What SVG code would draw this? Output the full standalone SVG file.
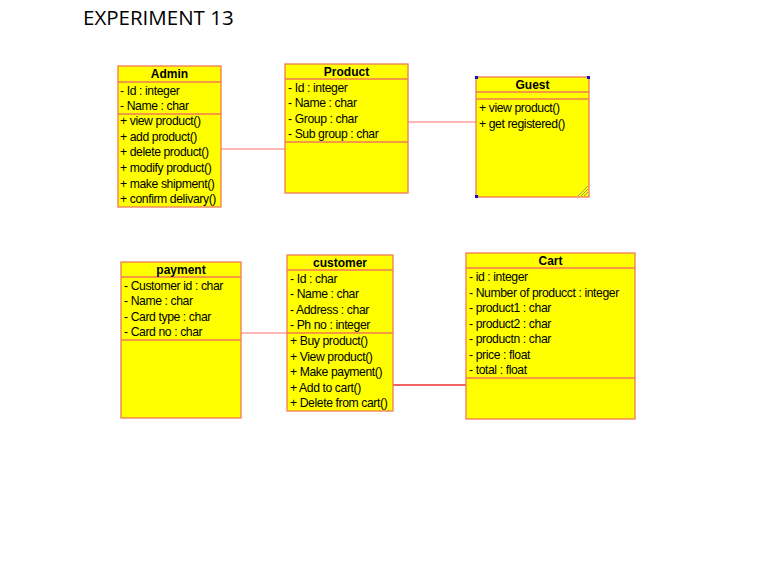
<svg xmlns="http://www.w3.org/2000/svg" width="770" height="573" viewBox="0 0 770 573">
<style>
.box{fill:#FFFF00;stroke:#F07A55;stroke-width:1.3}
.div{stroke:#F07A55;stroke-width:1.3}
.t{font-family:"Liberation Sans",Arial,sans-serif;font-size:12.2px;fill:#000;letter-spacing:-0.4px}
.h{font-family:"Liberation Sans",Arial,sans-serif;font-size:12px;font-weight:bold;fill:#000;text-anchor:middle}
.title{font-family:"Open Sans","Liberation Sans",sans-serif;font-size:20.5px;fill:#000}
.c{fill:none;stroke:#FF7070;stroke-width:1.2}
</style>
<rect width="770" height="573" fill="#fff"/>
<text class="title" x="83" y="25">EXPERIMENT 13</text>
<g id="connectors">
<line class="c" x1="221" y1="149" x2="285" y2="149"/>
<line class="c" x1="408" y1="122" x2="476" y2="122"/>
<line class="c" x1="241" y1="333" x2="287" y2="333" stroke="#F5A0A0"/>
<line x1="393" y1="385" x2="466" y2="385" stroke="#E83030" stroke-width="1.4"/>
</g>
<g id="admin">
<rect class="box" x="118" y="66" width="103" height="141"/>
<line class="div" x1="118" y1="82" x2="221" y2="82"/>
<line class="div" x1="118" y1="114" x2="221" y2="114"/>
<text class="h" x="169.5" y="78">Admin</text>
<text class="t" x="120" y="95">- Id : integer</text>
<text class="t" x="120" y="110">- Name : char</text>
<text class="t" x="120" y="125">+ view product()</text>
<text class="t" x="120" y="141">+ add product()</text>
<text class="t" x="120" y="156">+ delete product()</text>
<text class="t" x="120" y="172">+ modify product()</text>
<text class="t" x="120" y="188">+ make shipment()</text>
<text class="t" x="120" y="203">+ confirm  delivary()</text>
</g>
<g id="product">
<rect class="box" x="285" y="64" width="123" height="129"/>
<line class="div" x1="285" y1="79" x2="408" y2="79"/>
<line class="div" x1="285" y1="142" x2="408" y2="142"/>
<text class="h" x="346.5" y="76">Product</text>
<text class="t" x="288" y="92">- Id : integer</text>
<text class="t" x="288" y="107">- Name : char</text>
<text class="t" x="288" y="123">- Group : char</text>
<text class="t" x="288" y="138">- Sub group : char</text>
</g>
<g id="guest">
<rect class="box" x="476" y="77" width="113" height="120"/>
<line class="div" x1="476" y1="92" x2="589" y2="92"/>
<line class="div" x1="476" y1="99" x2="589" y2="99"/>
<text class="h" x="532.5" y="89">Guest</text>
<text class="t" x="479" y="112">+ view product()</text>
<text class="t" x="479" y="128">+ get registered()</text>
<g stroke="#888" stroke-width="0.8">
<line x1="578" y1="196" x2="588" y2="186"/>
<line x1="581" y1="196" x2="588" y2="189"/>
<line x1="584" y1="196" x2="588" y2="192"/>
</g>
<g fill="#1010C0">
<rect x="475" y="76" width="3" height="3"/>
<rect x="587" y="76" width="3" height="3"/>
<rect x="475" y="195" width="3" height="3"/>
</g>
</g>
<g id="payment">
<rect class="box" x="121" y="262" width="120" height="156"/>
<line class="div" x1="121" y1="277" x2="241" y2="277"/>
<line class="div" x1="121" y1="340" x2="241" y2="340"/>
<text class="h" x="181" y="274">payment</text>
<text class="t" x="124" y="290">- Customer id : char</text>
<text class="t" x="124" y="305">- Name : char</text>
<text class="t" x="124" y="321">- Card type : char</text>
<text class="t" x="124" y="336">- Card no : char</text>
</g>
<g id="customer">
<rect class="box" x="287" y="255" width="106" height="156"/>
<line class="div" x1="287" y1="270" x2="393" y2="270"/>
<line class="div" x1="287" y1="333" x2="393" y2="333"/>
<text class="h" x="340" y="267">customer</text>
<text class="t" x="290" y="283">- Id : char</text>
<text class="t" x="290" y="298">- Name : char</text>
<text class="t" x="290" y="314">- Address : char</text>
<text class="t" x="290" y="329">- Ph no : integer</text>
<text class="t" x="290" y="345">+ Buy product()</text>
<text class="t" x="290" y="361">+ View product()</text>
<text class="t" x="290" y="376">+ Make payment()</text>
<text class="t" x="290" y="392">+ Add to cart()</text>
<text class="t" x="290" y="407">+ Delete from cart()</text>
</g>
<g id="cart">
<rect class="box" x="466" y="253" width="169" height="166"/>
<line class="div" x1="466" y1="268" x2="635" y2="268"/>
<line class="div" x1="466" y1="378" x2="635" y2="378"/>
<text class="h" x="550.5" y="265">Cart</text>
<text class="t" x="469" y="281">- id : integer</text>
<text class="t" x="469" y="297">- Number of producct : integer</text>
<text class="t" x="469" y="312">- product1 : char</text>
<text class="t" x="469" y="328">- product2 : char</text>
<text class="t" x="469" y="343">- productn : char</text>
<text class="t" x="469" y="359">- price : float</text>
<text class="t" x="469" y="374">- total : float</text>
</g>
</svg>
